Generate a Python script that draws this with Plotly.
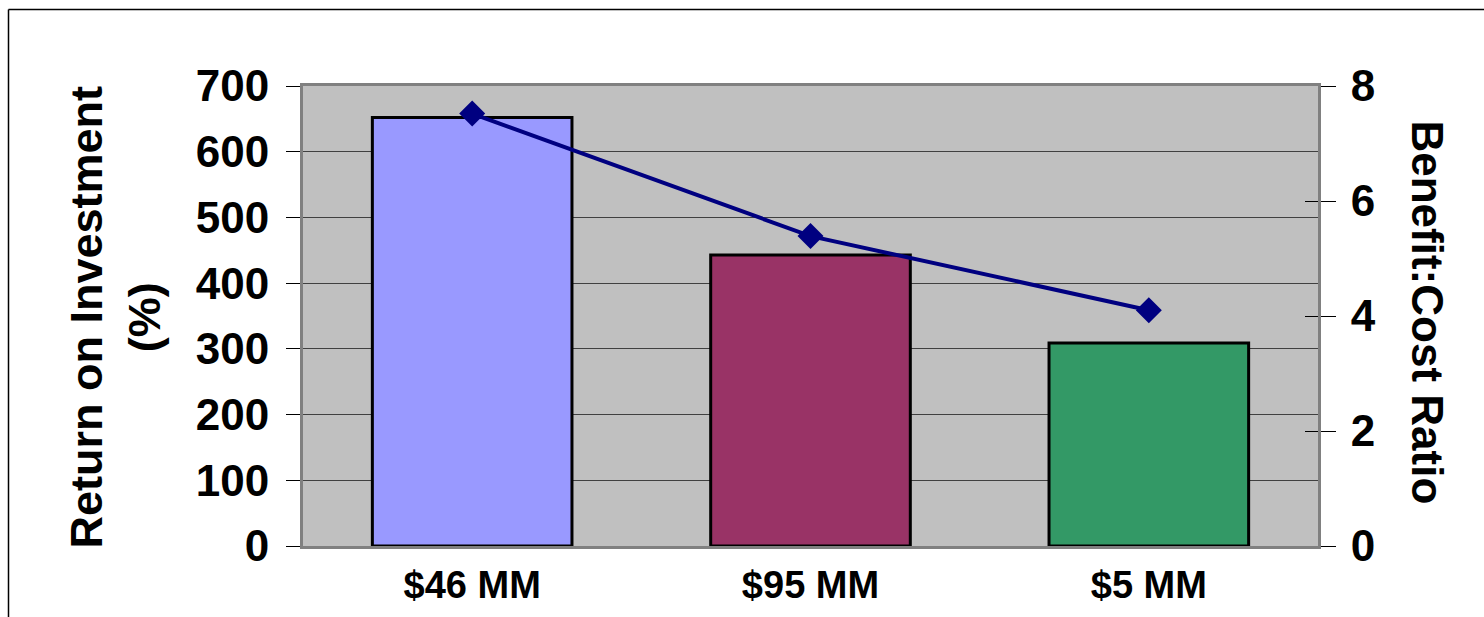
import plotly.graph_objects as go

categories = ["$46 MM", "$95 MM", "$5 MM"]
roi_percent = [652, 443, 309]
benefit_cost = [7.52, 5.39, 4.10]
bar_colors = ["#9999FF", "#993366", "#339966"]
left_ticks = [0, 100, 200, 300, 400, 500, 600, 700]
right_ticks = [0, 2, 4, 6, 8]

W, H = 1484, 617
L, R, T, B = 303, 166, 86, 71
pw, ph = W - L - R, H - T - B

FONT = "Arial, 'Liberation Sans', sans-serif"

def px2x(px):
    return (px - L) / pw

def py2y(py):
    return 1 - (py - T) / ph

fig = go.Figure()
fig.add_trace(go.Bar(
    x=categories, y=roi_percent,
    marker=dict(color=bar_colors, line=dict(color="black", width=3)),
    width=0.59, yaxis="y", hoverinfo="skip", showlegend=False,
))
fig.add_trace(go.Scatter(
    x=categories, y=benefit_cost, yaxis="y2", mode="lines+markers",
    line=dict(color="#000080", width=4),
    marker=dict(symbol="diamond", size=20, color="#000080"),
    hoverinfo="skip", showlegend=False,
))
# invisible trace to activate inside-tick axis
fig.add_trace(go.Scatter(x=categories, y=benefit_cost, yaxis="y3", mode="none",
                         hoverinfo="skip", showlegend=False))

fig.update_layout(
    width=W, height=H,
    margin=dict(l=L, r=R, t=T, b=B),
    paper_bgcolor="white",
    plot_bgcolor="#C0C0C0",
    font=dict(family=FONT, color="black", size=44, weight="bold"),
    xaxis=dict(
        showgrid=False, showline=True, linecolor="#808080", linewidth=3,
        mirror=True, ticks="", tickfont=dict(size=38, weight="bold"),
        ticklabelstandoff=3,
    ),
    yaxis=dict(
        range=[0, 700], tickvals=left_ticks, showgrid=True,
        gridcolor="#404040", gridwidth=1, showline=True, linecolor="#808080",
        linewidth=3, ticks="outside", ticklen=14, tickcolor="black", tickwidth=1,
        tickfont=dict(size=44, weight="bold"), zeroline=False,
        ticklabelstandoff=8,
    ),
    yaxis2=dict(
        range=[0, 8], tickvals=right_ticks, overlaying="y", side="right",
        showgrid=False, showline=True, linecolor="#808080", linewidth=3,
        ticks="outside", ticklen=15, tickcolor="black", tickwidth=1,
        tickfont=dict(size=44, weight="bold"), zeroline=False,
        ticklabelstandoff=6,
    ),
    yaxis3=dict(
        range=[0, 8], tickvals=right_ticks, overlaying="y", side="right",
        showgrid=False, showline=False, ticks="inside", ticklen=13,
        tickcolor="black", tickwidth=1, showticklabels=False, zeroline=False,
    ),
    annotations=[
        dict(text="Return on Investment<br>(%)", xref="paper", yref="paper",
             x=px2x(115), y=py2y(317.5), xanchor="center", yanchor="middle",
             textangle=-90, showarrow=False,
             font=dict(size=45, weight="bold", family=FONT)),
        dict(text="Benefit:Cost Ratio", xref="paper", yref="paper",
             x=px2x(1427), y=py2y(312.5), xanchor="center", yanchor="middle",
             textangle=90, showarrow=False,
             font=dict(size=44, weight="bold", family=FONT)),
    ],
    shapes=[
        dict(type="line", xref="paper", yref="paper",
             x0=px2x(8.5), x1=px2x(W + 5), y0=py2y(9.5), y1=py2y(9.5),
             line=dict(color="black", width=1.5)),
        dict(type="line", xref="paper", yref="paper",
             x0=px2x(8.5), x1=px2x(8.5), y0=py2y(9.5), y1=py2y(H + 5),
             line=dict(color="black", width=1.5)),
    ],
)

fig.write_html("out.html")
